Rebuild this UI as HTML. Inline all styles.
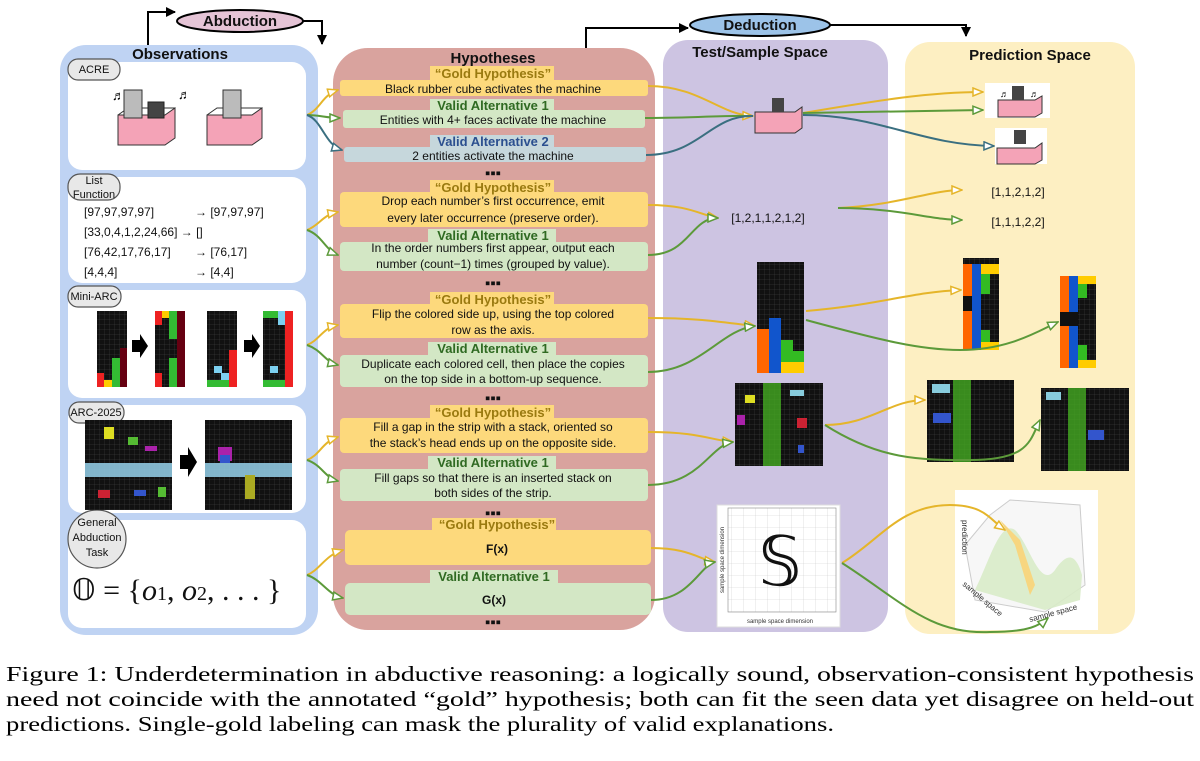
<!DOCTYPE html>
<html><head><meta charset="utf-8"><style>
html,body{margin:0;padding:0;background:#fff;}
svg{display:block;font-family:"Liberation Sans",sans-serif;}
.t{font-size:12px;fill:#111;text-anchor:middle}
.g{font-size:13px;font-weight:bold;fill:#9a7a10;text-anchor:middle}
.v{font-size:13px;font-weight:bold;fill:#2f6a22;text-anchor:middle}
.b{font-size:13px;font-weight:bold;fill:#2b4f8f;text-anchor:middle}
.h{font-size:15px;font-weight:bold;fill:#111;text-anchor:middle}
.cap{font-size:21px;fill:#000}
.gc{fill:none;stroke:#e5b52a;stroke-width:2}
.gr{fill:none;stroke:#5c9a3a;stroke-width:2}
.tl{fill:none;stroke:#3a6f80;stroke-width:2}
</style></head><body>
<svg width="1200" height="761" viewBox="0 0 1200 761">
<defs>
<marker id="ag" markerWidth="12" markerHeight="10" refX="11" refY="5" orient="auto" markerUnits="userSpaceOnUse"><path d="M1,1 L11,5 L1,9 Z" fill="#fff" stroke="#e5b52a" stroke-width="1.5"/></marker>
<marker id="an" markerWidth="12" markerHeight="10" refX="11" refY="5" orient="auto" markerUnits="userSpaceOnUse"><path d="M1,1 L11,5 L1,9 Z" fill="#fff" stroke="#5c9a3a" stroke-width="1.5"/></marker>
<marker id="at" markerWidth="12" markerHeight="10" refX="11" refY="5" orient="auto" markerUnits="userSpaceOnUse"><path d="M1,1 L11,5 L1,9 Z" fill="#fff" stroke="#3a6f80" stroke-width="1.5"/></marker>
<marker id="ab" markerWidth="10" markerHeight="10" refX="9" refY="5" orient="auto" markerUnits="userSpaceOnUse"><path d="M0,0 L10,5 L0,10 Z" fill="#000"/></marker>
<pattern id="grid" width="5" height="5" patternUnits="userSpaceOnUse"><rect width="5" height="5" fill="#111"/><path d="M5,0 V5 H0" stroke="#444" stroke-width="0.5" fill="none"/></pattern>
<pattern id="lg" width="12" height="12" patternUnits="userSpaceOnUse"><rect width="12" height="12" fill="#fff"/><path d="M12,0 V12 H0" stroke="#ccc" stroke-width="0.6" fill="none"/></pattern>
</defs>

<path d="M148,45 V12 H175" fill="none" stroke="#000" stroke-width="2" marker-end="url(#ab)"/>
<path d="M303,21 H322 V44" fill="none" stroke="#000" stroke-width="2" marker-end="url(#ab)"/>
<ellipse cx="240" cy="21" rx="63" ry="11" fill="#e5c4d6" stroke="#000" stroke-width="2"/>
<text x="240" y="26" class="h" font-size="15">Abduction</text>
<path d="M586,48 V28 H688" fill="none" stroke="#000" stroke-width="2" marker-end="url(#ab)"/>
<path d="M830,25 H966 V36" fill="none" stroke="#000" stroke-width="2" marker-end="url(#ab)"/>
<ellipse cx="760" cy="25" rx="70" ry="11" fill="#9cc3e8" stroke="#000" stroke-width="2"/>
<text x="760" y="30" class="h">Deduction</text>

<rect x="60" y="45" width="258" height="590" rx="26" fill="#bfd3f3"/>
<text x="180" y="59" class="h">Observations</text>
<rect x="333" y="48" width="322" height="582" rx="35" fill="#d9a39e"/>
<text x="493" y="63" class="h">Hypotheses</text>
<rect x="663" y="40" width="225" height="592" rx="25" fill="#cdc4e2"/>
<text x="760" y="57" class="h">Test/Sample Space</text>
<rect x="905" y="42" width="230" height="592" rx="25" fill="#fdefc2"/>
<text x="1030" y="60" class="h">Prediction Space</text>

<g fill="#fff">
<rect x="68" y="62" width="238" height="108" rx="14"/>
<rect x="68" y="177" width="238" height="106" rx="14"/>
<rect x="68" y="290" width="238" height="108" rx="14"/>
<rect x="68" y="405" width="238" height="108" rx="14"/>
<rect x="68" y="520" width="238" height="108" rx="14"/>
</g>
<g fill="#e8e8e8" stroke="#555" stroke-width="1.2">
<rect x="68" y="59" width="52" height="21" rx="10"/>
<rect x="68" y="174" width="52" height="26" rx="12"/>
<rect x="68" y="286" width="53" height="21" rx="10"/>
<rect x="69" y="402" width="55" height="21" rx="10"/>
<ellipse cx="97" cy="539" rx="29" ry="29"/>
</g>
<g font-size="11" fill="#111" text-anchor="middle">
<text x="94" y="73">ACRE</text>
<text x="94" y="184">List</text><text x="94" y="198">Function</text>
<text x="94" y="300">Mini-ARC</text>
<text x="96" y="416">ARC-2025</text>
<text x="97" y="526">General</text><text x="97" y="541">Abduction</text><text x="97" y="556">Task</text>
</g>
<path d="M118,115 H165 L175,108 V138 L165,145 H118 Z" fill="#f4a3b7" stroke="#333"/>
<path d="M118,115 L128,108 H175" fill="none" stroke="#333"/>
<rect x="124" y="90" width="18" height="28" fill="#bbb" stroke="#333"/>
<rect x="148" y="102" width="16" height="16" fill="#444" stroke="#222"/>
<text x="112" y="100" font-size="13">♬</text><text x="178" y="99" font-size="13">♬</text>
<path d="M207,115 H252 L262,108 V138 L252,145 H207 Z" fill="#f4a3b7" stroke="#333"/>
<path d="M207,115 L217,108 H262" fill="none" stroke="#333"/>
<rect x="223" y="90" width="18" height="28" fill="#bbb" stroke="#333"/>
<g font-size="12" fill="#111">
<text x="84" y="216">[97,97,97,97]</text><text x="195" y="216">→ [97,97,97]</text>
<text x="84" y="236">[33,0,4,1,2,24,66] → []</text>
<text x="84" y="256">[76,42,17,76,17]</text><text x="195" y="256">→ [76,17]</text>
<text x="84" y="276">[4,4,4]</text><text x="195" y="276">→ [4,4]</text>
</g>
<rect x="97" y="311" width="30" height="76" fill="url(#grid)"/>
<rect x="97" y="373" width="7" height="14" fill="#e22"/><rect x="104" y="380" width="8" height="7" fill="#fc0"/><rect x="112" y="358" width="8" height="29" fill="#3b3"/><rect x="120" y="348" width="7" height="39" fill="#601"/>
<path d="M132,340 h8 v-6 l8,12 l-8,12 v-6 h-8z" fill="#000"/>
<rect x="155" y="311" width="30" height="76" fill="url(#grid)"/>
<rect x="155" y="311" width="7" height="14" fill="#e22"/><rect x="162" y="311" width="7" height="7" fill="#fc0"/><rect x="169" y="311" width="8" height="28" fill="#3b3"/><rect x="177" y="311" width="8" height="76" fill="#601"/>
<rect x="155" y="373" width="7" height="14" fill="#e22"/><rect x="169" y="358" width="8" height="29" fill="#3b3"/>
<rect x="207" y="311" width="30" height="76" fill="url(#grid)"/>
<rect x="229" y="350" width="8" height="37" fill="#e22"/><rect x="207" y="380" width="22" height="7" fill="#3b3"/><rect x="214" y="366" width="8" height="7" fill="#7cd0f0"/><rect x="221" y="373" width="8" height="7" fill="#7cd0f0"/>
<path d="M244,340 h8 v-6 l8,12 l-8,12 v-6 h-8z" fill="#000"/>
<rect x="263" y="311" width="30" height="76" fill="url(#grid)"/>
<rect x="285" y="311" width="8" height="76" fill="#e22"/><rect x="263" y="311" width="15" height="7" fill="#3b3"/><rect x="278" y="311" width="7" height="14" fill="#7cd0f0"/><rect x="263" y="380" width="22" height="7" fill="#3b3"/><rect x="270" y="366" width="8" height="7" fill="#7cd0f0"/>
<rect x="85" y="420" width="87" height="90" fill="url(#grid)"/>
<rect x="85" y="463" width="87" height="14" fill="#8fc8e0" opacity="0.9"/>
<rect x="104" y="427" width="10" height="12" fill="#dd2"/><rect x="128" y="437" width="10" height="8" fill="#5b3"/><rect x="145" y="446" width="12" height="5" fill="#a2a"/>
<rect x="98" y="490" width="12" height="8" fill="#c23"/><rect x="134" y="490" width="12" height="6" fill="#35c"/><rect x="158" y="487" width="8" height="10" fill="#5b3"/>
<path d="M180,455 h8 v-8 l9,15 l-9,15 v-8 h-8z" fill="#000"/>
<rect x="205" y="420" width="87" height="90" fill="url(#grid)"/>
<rect x="205" y="463" width="87" height="14" fill="#8fc8e0" opacity="0.9"/>
<rect x="218" y="447" width="14" height="14" fill="#a2a"/><rect x="220" y="455" width="10" height="8" fill="#35c"/>
<rect x="245" y="475" width="10" height="24" fill="#aa2"/>
<text x="72" y="600" font-family="'Liberation Serif','Times New Roman',serif" font-size="30" fill="#111">𝕆 = {<tspan font-style="italic">o</tspan><tspan font-size="20">1</tspan>, <tspan font-style="italic">o</tspan><tspan font-size="20">2</tspan>, . . . }</text>

<g>
<rect x="340" y="80" width="308" height="16" rx="3" fill="#fdd97c"/>
<rect x="343" y="110" width="302" height="18" rx="3" fill="#d3e7c5"/>
<rect x="344" y="147" width="302" height="15" rx="3" fill="#c6d7dc"/>
<rect x="340" y="192" width="308" height="35" rx="4" fill="#fdd97c"/>
<rect x="340" y="242" width="308" height="29" rx="4" fill="#d3e7c5"/>
<rect x="340" y="304" width="308" height="34" rx="4" fill="#fdd97c"/>
<rect x="340" y="355" width="308" height="32" rx="4" fill="#d3e7c5"/>
<rect x="340" y="418" width="308" height="35" rx="4" fill="#fdd97c"/>
<rect x="340" y="469" width="308" height="32" rx="4" fill="#d3e7c5"/>
<rect x="345" y="530" width="306" height="35" rx="5" fill="#fdd97c"/>
<rect x="345" y="583" width="306" height="32" rx="5" fill="#d3e7c5"/>
</g>
<g>
<rect x="430" y="66" width="124" height="14" fill="#fdd97c"/><text x="493" y="78" class="g">“Gold Hypothesis”</text>
<text x="493" y="93" class="t">Black rubber cube activates the machine</text>
<rect x="430" y="99" width="124" height="12" fill="#d3e7c5"/><text x="493" y="110" class="v">Valid Alternative 1</text>
<text x="493" y="124" class="t">Entities with 4+ faces activate the machine</text>
<rect x="430" y="135" width="124" height="13" fill="#c6d7dc"/><text x="493" y="146" class="b">Valid Alternative 2</text>
<text x="493" y="160" class="t">2 entities activate the machine</text>
<text x="493" y="178" class="h">▪▪▪</text>
<rect x="430" y="180" width="124" height="13" fill="#fdd97c"/><text x="493" y="192" class="g">“Gold Hypothesis”</text>
<text x="493" y="205" class="t">Drop each number’s first occurrence, emit</text>
<text x="493" y="222" class="t">every later occurrence (preserve order).</text>
<rect x="428" y="229" width="128" height="13" fill="#d3e7c5"/><text x="493" y="240" class="v">Valid Alternative 1</text>
<text x="493" y="252" class="t">In the order numbers first appear, output each</text>
<text x="493" y="268" class="t">number (count−1) times (grouped by value).</text>
<text x="493" y="288" class="h">▪▪▪</text>
<rect x="430" y="292" width="124" height="13" fill="#fdd97c"/><text x="493" y="304" class="g">“Gold Hypothesis”</text>
<text x="493" y="318" class="t">Flip the colored side up, using the top colored</text>
<text x="493" y="334" class="t">row as the axis.</text>
<rect x="428" y="342" width="128" height="13" fill="#d3e7c5"/><text x="493" y="353" class="v">Valid Alternative 1</text>
<text x="493" y="368" class="t">Duplicate each colored cell, then place the copies</text>
<text x="493" y="383" class="t">on the top side in a bottom-up sequence.</text>
<text x="493" y="403" class="h">▪▪▪</text>
<rect x="430" y="405" width="124" height="13" fill="#fdd97c"/><text x="493" y="417" class="g">“Gold Hypothesis”</text>
<text x="493" y="431" class="t">Fill a gap in the strip with a stack, oriented so</text>
<text x="493" y="447" class="t">the stack’s head ends up on the opposite side.</text>
<rect x="428" y="456" width="128" height="13" fill="#d3e7c5"/><text x="493" y="467" class="v">Valid Alternative 1</text>
<text x="493" y="482" class="t">Fill gaps so that there is an inserted stack on</text>
<text x="493" y="497" class="t">both sides of the strip.</text>
<text x="493" y="518" class="h">▪▪▪</text>
<rect x="432" y="518" width="124" height="13" fill="#fdd97c"/><text x="497" y="529" class="g">“Gold Hypothesis”</text>
<text x="497" y="553" class="t" font-weight="bold">F(x)</text>
<rect x="430" y="570" width="128" height="13" fill="#d3e7c5"/><text x="494" y="581" class="v">Valid Alternative 1</text>
<text x="494" y="604" class="t" font-weight="bold">G(x)</text>
<text x="493" y="627" class="h">▪▪▪</text>
</g>

<path d="M755,112 H795 L802,107 V128 L795,133 H755 Z" fill="#f4a3b7" stroke="#333"/>
<rect x="772" y="98" width="12" height="14" fill="#444"/>
<text x="768" y="222" font-size="12" fill="#111" text-anchor="middle">[1,2,1,1,2,1,2]</text>
<rect x="757" y="262" width="47" height="111" fill="url(#grid)"/>
<rect x="757" y="329" width="12" height="44" fill="#f60"/><rect x="769" y="318" width="12" height="55" fill="#15c"/><rect x="781" y="340" width="12" height="22" fill="#3b2"/><rect x="793" y="351" width="11" height="11" fill="#3b2"/><rect x="781" y="362" width="23" height="11" fill="#fc0"/>
<rect x="735" y="383" width="88" height="83" fill="url(#grid)"/>
<rect x="763" y="383" width="18" height="83" fill="#4a2" opacity="0.8"/>
<rect x="745" y="395" width="10" height="8" fill="#dd2"/><rect x="790" y="390" width="14" height="6" fill="#8cd"/><rect x="737" y="415" width="8" height="10" fill="#a2a"/><rect x="797" y="418" width="10" height="10" fill="#c23"/><rect x="798" y="445" width="6" height="8" fill="#35c"/>
<rect x="717" y="505" width="123" height="122" fill="#fff" stroke="#ddd"/>
<rect x="728" y="508" width="108" height="104" fill="url(#lg)" stroke="#888" stroke-width="0.6"/>
<text x="780" y="585" font-family="'Liberation Serif','Times New Roman',serif" font-size="68" text-anchor="middle" fill="#111">𝕊</text>
<text x="780" y="623" font-size="6" text-anchor="middle" fill="#333">sample space dimension</text>
<text x="724" y="560" font-size="6" text-anchor="middle" fill="#333" transform="rotate(-90 724 560)">sample space dimension</text>

<rect x="985" y="83" width="65" height="35" fill="#fff"/>
<path d="M998,100 H1035 L1042,96 V113 L1035,117 H998 Z" fill="#f4a3b7" stroke="#333"/>
<rect x="1012" y="86" width="12" height="14" fill="#444"/><text x="1000" y="97" font-size="9">♬</text><text x="1030" y="97" font-size="9">♬</text>
<rect x="995" y="128" width="52" height="36" fill="#fff"/>
<path d="M997,148 H1035 L1042,143 V160 L1035,164 H997 Z" fill="#f4a3b7" stroke="#333"/>
<rect x="1014" y="130" width="12" height="14" fill="#444"/>
<text x="1018" y="196" font-size="12" fill="#111" text-anchor="middle">[1,1,2,1,2]</text>
<text x="1018" y="226" font-size="12" fill="#111" text-anchor="middle">[1,1,1,2,2]</text>
<rect x="963" y="258" width="36" height="92" fill="url(#grid)"/>
<rect x="963" y="264" width="9" height="86" fill="#f60"/><rect x="972" y="264" width="9" height="86" fill="#15c"/><rect x="981" y="264" width="18" height="10" fill="#fc0"/><rect x="981" y="274" width="9" height="20" fill="#3b2"/><rect x="981" y="330" width="9" height="15" fill="#3b2"/><rect x="981" y="342" width="18" height="8" fill="#fc0"/><rect x="963" y="296" width="9" height="15" fill="#111"/>
<rect x="1060" y="276" width="36" height="92" fill="url(#grid)"/>
<rect x="1060" y="276" width="9" height="92" fill="#f60"/><rect x="1069" y="276" width="9" height="92" fill="#15c"/><rect x="1078" y="276" width="18" height="8" fill="#fc0"/><rect x="1078" y="284" width="9" height="14" fill="#3b2"/><rect x="1078" y="345" width="9" height="15" fill="#3b2"/><rect x="1078" y="360" width="18" height="8" fill="#fc0"/><rect x="1060" y="312" width="18" height="14" fill="#111"/>
<rect x="927" y="380" width="87" height="82" fill="url(#grid)"/>
<rect x="953" y="380" width="18" height="82" fill="#4a2" opacity="0.8"/>
<rect x="932" y="384" width="18" height="9" fill="#8cd"/><rect x="933" y="413" width="18" height="10" fill="#35c"/>
<rect x="1041" y="388" width="88" height="83" fill="url(#grid)"/>
<rect x="1068" y="388" width="18" height="83" fill="#4a2" opacity="0.8"/>
<rect x="1046" y="392" width="15" height="8" fill="#8cd"/><rect x="1088" y="430" width="16" height="10" fill="#35c"/>
<rect x="955" y="490" width="143" height="140" fill="#fff"/>
<path d="M965,545 L990,515 L1010,500 L1080,505 L1085,585 L1045,612 L975,600 Z" fill="#f7f7f7" stroke="#ccc"/>
<path d="M975,590 C990,560 1000,520 1015,530 C1030,545 1040,590 1055,570 C1065,555 1075,550 1082,575 L1080,600 L1045,610 Z" fill="#d8ebc8" opacity="0.9"/>
<path d="M1000,520 L1020,540 L1035,585 L1030,595 L1015,545 Z" fill="#f7d680"/>
<text x="962" y="520" font-size="8" fill="#333" transform="rotate(90 962 520)">prediction</text>
<text x="962" y="585" font-size="8" fill="#333" transform="rotate(40 962 585)">sample space</text>
<text x="1030" y="622" font-size="8" fill="#333" transform="rotate(-15 1030 622)">sample space</text>

<path class="gc" d="M307,115 C320,110 322,95 338,90" marker-end="url(#ag)"/>
<path class="gr" d="M307,115 C320,115 325,118 340,118" marker-end="url(#an)"/>
<path class="tl" d="M307,115 C322,120 325,145 342,150" marker-end="url(#at)"/>
<path class="gc" d="M307,230 C320,225 322,215 338,212" marker-end="url(#ag)"/>
<path class="gr" d="M307,230 C322,235 325,250 338,255" marker-end="url(#an)"/>
<path class="gc" d="M307,345 C320,340 322,328 338,325" marker-end="url(#ag)"/>
<path class="gr" d="M307,345 C322,350 325,362 338,365" marker-end="url(#an)"/>
<path class="gc" d="M307,460 C320,455 322,442 338,437" marker-end="url(#ag)"/>
<path class="gr" d="M307,460 C322,465 325,478 338,481" marker-end="url(#an)"/>
<path class="gc" d="M307,575 C320,570 325,555 343,550" marker-end="url(#ag)"/>
<path class="gr" d="M307,575 C322,580 328,595 343,598" marker-end="url(#an)"/>

<path class="gc" d="M648,86 C700,86 720,115 753,116" marker-end="url(#ag)"/>
<path class="gr" d="M645,118 C700,118 720,115 753,116"/>
<path class="tl" d="M646,155 C700,155 710,115 753,116"/>
<path class="gc" d="M648,205 C690,205 700,215 718,218" marker-end="url(#ag)"/>
<path class="gr" d="M648,255 C690,255 690,218 718,218" marker-end="url(#an)"/>
<path class="gc" d="M648,318 C700,318 720,322 755,326" marker-end="url(#ag)"/>
<path class="gr" d="M648,372 C700,372 720,330 755,326" marker-end="url(#an)"/>
<path class="gc" d="M648,432 C700,432 710,440 733,442" marker-end="url(#ag)"/>
<path class="gr" d="M648,485 C700,485 710,445 733,442" marker-end="url(#an)"/>
<path class="gc" d="M651,548 C690,548 700,560 715,562" marker-end="url(#ag)"/>
<path class="gr" d="M651,600 C690,600 700,565 715,562" marker-end="url(#an)"/>

<path class="gc" d="M803,113 C880,100 930,92 983,92" marker-end="url(#ag)"/>
<path class="gr" d="M803,113 L983,110" marker-end="url(#an)"/>
<path class="tl" d="M803,115 C880,115 920,145 994,146" marker-end="url(#at)"/>
<path class="gc" d="M838,208 C900,205 930,190 962,190" marker-end="url(#ag)"/>
<path class="gr" d="M838,208 C900,208 930,220 962,220" marker-end="url(#an)"/>
<path class="gc" d="M806,311 C880,305 910,292 961,290" marker-end="url(#ag)"/>
<path class="gr" d="M806,320 C880,340 920,350 960,350 C1010,350 1040,330 1058,322" marker-end="url(#an)"/>
<path class="gc" d="M825,425 C870,425 890,400 925,400" marker-end="url(#ag)"/>
<path class="gr" d="M825,425 C880,460 920,460 970,460 C1030,460 1030,440 1040,420" marker-end="url(#an)"/>
<path class="gc" d="M842,563 C880,540 900,505 950,505 C985,505 990,520 1005,530" marker-end="url(#ag)"/>
<path class="gr" d="M842,563 C900,600 930,635 990,632 C1030,632 1040,625 1048,618" marker-end="url(#an)"/>

<g font-family="'Liberation Serif','Times New Roman',Times,serif">
<text x="6" y="681" class="cap" font-family="'Liberation Serif','Times New Roman',Times,serif" textLength="1188" lengthAdjust="spacingAndGlyphs">Figure 1:  Underdetermination in abductive reasoning: a logically sound, observation-consistent hypothesis</text>
<text x="6" y="706" class="cap" font-family="'Liberation Serif','Times New Roman',Times,serif" textLength="1188" lengthAdjust="spacingAndGlyphs">need not coincide with the annotated “gold” hypothesis; both can fit the seen data yet disagree on held-out</text>
<text x="6" y="731" class="cap" font-family="'Liberation Serif','Times New Roman',Times,serif" textLength="828" lengthAdjust="spacingAndGlyphs">predictions. Single-gold labeling can mask the plurality of valid explanations.</text>
</g>
</svg>
</body></html>
